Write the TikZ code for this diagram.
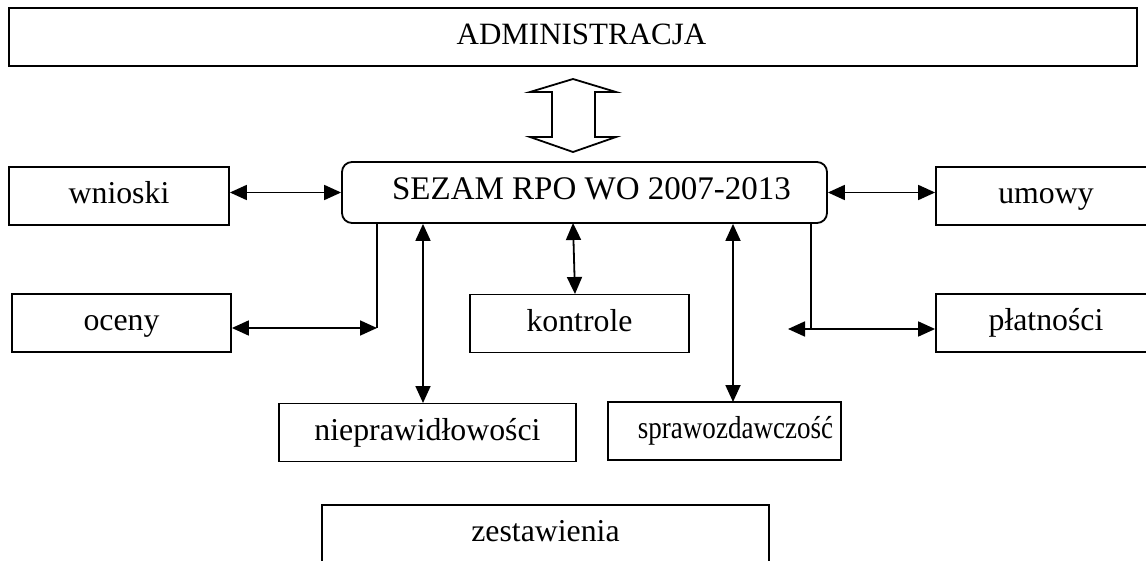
\documentclass[tikz,border=0pt]{standalone}
\usepackage{fontspec}
\setmainfont{Liberation Serif}
\usepackage{tikz}
\usetikzlibrary{arrows.meta,positioning}

\tikzset{
  box/.style={draw, line width=0.9pt, minimum height=29pt, inner sep=0pt,
    text height=0.8em, text depth=0.05em, font=\fontsize{15.9}{19}\selectfont},
  biarrow/.style={line width=0.9pt, {Triangle[length=8.5pt,width=7.5pt]}-{Triangle[length=8.5pt,width=7.5pt]}},
  wire/.style={line width=0.9pt},
}

\begin{document}
\begin{tikzpicture}[x=0.5pt, y=-0.5pt]
\clip (0,0) rectangle (1146,561);

% top level
\node[box, minimum width=564pt, font=\fontsize{15.5}{19}\selectfont] (admin) at (573,37) {\hspace{8.5pt}ADMINISTRACJA};
\node[box, rounded corners=5pt, minimum width=242.5pt, minimum height=30.5pt,
  font=\fontsize{16.5}{19}\selectfont] (sezam) at (584.5,192.5) {\hspace{7pt}SEZAM RPO WO 2007-2013};

% hollow link between them
\draw[wire] (573,79) -- (616,92) -- (595,92) -- (595,137) -- (616,137) -- (573,152)
  -- (530,137) -- (552,137) -- (552,92) -- (530,92) -- cycle;

% modules
\node[box, minimum width=110pt] (wnioski) at (119,196) {wnioski};
\node[box, minimum width=109.5pt] (oceny) at (121.5,323) {oceny};
\node[box, minimum width=110pt] (umowy) at (1046,196) {umowy};
\node[box, minimum width=110pt] (platnosci) at (1046,323) {płatności};
\node[box, minimum width=109.5pt] (kontrole) at (579.5,323.5) {kontrole};
\node[box, minimum width=148.5pt] (niepraw) at (427.5,432.5) {nieprawidłowości};
\node[box, minimum width=116.5pt] (sprawozd) at (724.5,431) {\hspace{11pt}\scalebox{0.85}[1]{sprawozdawczość}};
\node[box, minimum width=223.5pt] (zestaw) at (545.5,534) {zestawienia};

% turning points
\coordinate (ocJ) at (377,328);
\coordinate (plJ) at (811,329);
\coordinate (plL) at (788,329);
\coordinate (nX) at (423,403);
\coordinate (kT) at (573,223);
\coordinate (kB) at (575,294);
\coordinate (sX) at (733,402);

% connectors
\draw[biarrow] (wnioski.east |- sezam.west) -- (sezam.west);
\draw[biarrow] (sezam.east) -- (umowy.west |- sezam.east);
\draw[wire] (sezam.south -| ocJ) -- (ocJ);
\draw[biarrow] (oceny.east |- ocJ) -- (ocJ);
\draw[wire] (sezam.south -| plJ) -- (plJ);
\draw[biarrow] (plL) -- (platnosci.west |- plL);
\draw[biarrow] (sezam.south -| nX) -- (nX);
\draw[biarrow] (kT) -- (kB);
\draw[biarrow] (sezam.south -| sX) -- (sX);
\end{tikzpicture}
\end{document}
